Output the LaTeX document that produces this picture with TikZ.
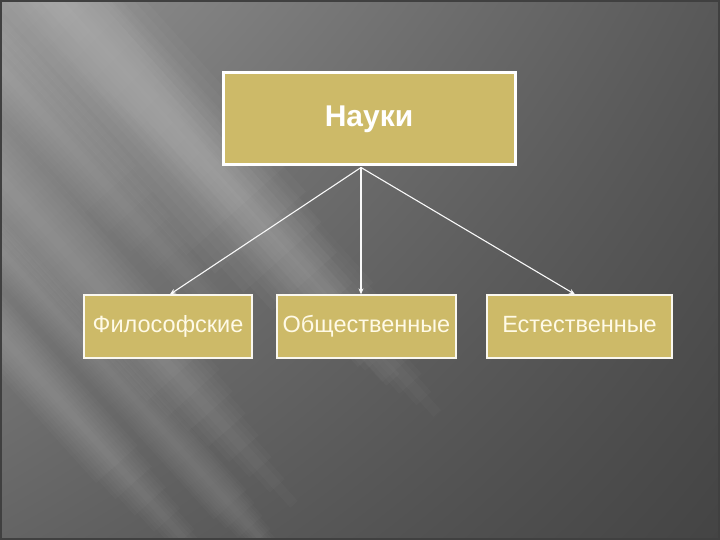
\documentclass[tikz,border=0pt]{standalone}
\usepackage{fontspec}
\setmainfont{Liberation Sans}
\usetikzlibrary{arrows.meta,shadings}
\definecolor{boxfill}{RGB}{205,186,104}
\definecolor{bgUL}{RGB}{145,145,145}
\definecolor{bgUR}{RGB}{88,88,88}
\definecolor{bgLL}{RGB}{100,100,100}
\definecolor{bgLR}{RGB}{68,68,68}
\definecolor{txtcream}{RGB}{255,250,230}
\tikzset{
  topbox/.style={draw=white, line width=3pt, fill=boxfill, minimum width=292pt, minimum height=92pt, inner sep=0pt, font=\fontsize{30}{32}\selectfont\bfseries, text=white},
  subbox/.style={draw=white!90!boxfill, line width=1.3pt, fill=boxfill, minimum height=63pt, inner sep=0pt, text height=17pt, text depth=4.5pt, font=\fontsize{23.5}{26}\selectfont, text=txtcream},
  link/.style={draw=white!95!gray, line width=1.1pt, -{Stealth[length=6pt,width=5pt]}},
  bandpiece/.style={fill=white, draw=none, opacity=#1},
}
\newcommand{\lightband}[5]{% center x, center y, half width, opacity per layer, forward length
  \begin{scope}[rotate around={-48:(#1,#2)}]
    \foreach \f in {1,0.875,0.75,0.625,0.5,0.375,0.25,0.125}{
      \fill[bandpiece=#4] (#1-600,{#2-#3*\f}) rectangle ({#1+#5*(1.2-0.8*\f)},{#2+#3*\f});
    }
  \end{scope}}
\begin{document}
\begin{tikzpicture}[x=1pt,y=-1pt]
\useasboundingbox (0,0) rectangle (720,540);
% background
\shade[upper left=bgUL, upper right=bgUR, lower left=bgLL, lower right=bgLR] (0,0) rectangle (720,540);
\begin{scope}
\clip (0,0) rectangle (720,540);
\lightband{150}{110}{70}{0.028}{330}
\lightband{110}{300}{40}{0.022}{250}
\lightband{50}{390}{28}{0.022}{250}
\lightband{290}{250}{40}{0.02}{200}
\lightband{190}{460}{22}{0.018}{150}
\lightband{30}{100}{35}{0.018}{300}
\end{scope}
\draw[black!75, line width=2pt] (1,1) rectangle (719,539);
% nodes
\node[topbox] (nauki) at (369,119) {Науки};
\node[subbox, minimum width=168pt] (fil) at (168,326.5) {Философские};
\node[subbox, minimum width=179pt] (obs) at (366.5,326.5) {Общественные};
\node[subbox, minimum width=185pt] (est) at (579.5,326.5) {Естественные};
\coordinate (src) at ([xshift=-8pt,yshift=-1pt]nauki.south);
% connectors
\draw[link] (src) -- ([xshift=2pt]fil.north);
\draw[link] (src) -- ([xshift=-5.5pt]obs.north);
\draw[link] (src) -- ([xshift=-4.5pt]est.north);
\end{tikzpicture}
\end{document}
